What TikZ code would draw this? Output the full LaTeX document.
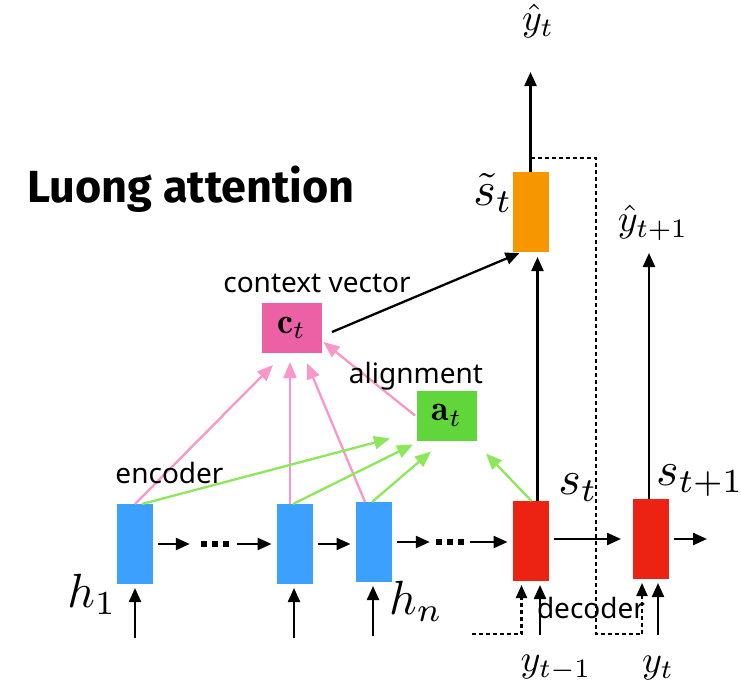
\documentclass[tikz,border=0pt]{standalone}
\usepackage{graphicx}
\usepackage{fontspec}
\newfontfamily\labelfont{Noto Sans}
\newfontfamily\titlefont{Fira Sans}
\usetikzlibrary{arrows.meta}

\definecolor{encblue}{RGB}{60,160,255}
\definecolor{decred}{RGB}{236,34,18}
\definecolor{outorange}{RGB}{246,150,0}
\definecolor{ctxpink}{RGB}{236,96,166}
\definecolor{alngreen}{RGB}{96,214,58}
\definecolor{pinkline}{RGB}{250,150,200}
\definecolor{greenline}{RGB}{140,232,90}

\newcommand{\bigsym}[1]{\scalebox{4.8}{$#1$}}
\newcommand{\smallsym}[1]{\scalebox{3.8}{$#1$}}
\newcommand{\boxsym}[1]{\scalebox{3.6}{$#1$}}

\tikzset{
  cell/.style={minimum width=36pt,minimum height=80pt,inner sep=0pt,outer sep=0pt},
  attnbox/.style={minimum width=60pt,minimum height=50pt,inner sep=0pt,outer sep=0pt},
  flow/.style={line width=2.3pt,-{Triangle[length=14pt,width=12pt]}},
  dashflow/.style={line width=2.2pt,dash pattern=on 4pt off 3pt,-{Triangle[length=13pt,width=11pt]}},
  pinkflow/.style={pinkline,line width=2.3pt,-{Triangle[length=16pt,width=13pt]}},
  greenflow/.style={greenline,line width=2.3pt,-{Triangle[length=16pt,width=13pt]}},
  txtlabel/.style={inner sep=0pt,anchor=base,font=\labelfont\fontsize{28}{30}\selectfont},
  symlabel/.style={inner sep=0pt},
  dots/.style={minimum width=30pt,minimum height=6pt,inner sep=0pt,
    path picture={\foreach \k in {-11,0,11}{
      \fill ([xshift=\k pt]path picture bounding box.center) +(-3,-3) rectangle +(3,3);}}}
}

\begin{document}
\begin{tikzpicture}[x=1pt,y=-1pt]
\useasboundingbox (0,0) rectangle (741,688);

% encoder cells
\node[cell,fill=encblue] (h1) at (135,544) {};
\node[cell,fill=encblue] (e2) at (294.5,544) {};
\node[cell,fill=encblue] (e3) at (373.5,542) {};
% decoder cells
\node[cell,fill=decred] (s1) at (530.5,541) {};
\node[cell,fill=decred] (s2) at (651,539) {};
% attentional hidden state
\node[cell,fill=outorange] (ot) at (530.5,212) {};
% context vector and alignment
\node[attnbox,fill=ctxpink] (ct) at (291.5,328) {\boxsym{\mathbf{c}_t}};
\node[attnbox,fill=alngreen] (at) at (447,415.5) {\boxsym{\mathbf{a}_t}};

% ellipses in the recurrent chains
\node[dots] (dA) at (215,544) {};
\node[dots] (dB) at (450,542) {};

% recurrent connections
\draw[flow] ([xshift=5pt]h1.east) -- ([xshift=-10pt]dA.west);
\draw[flow] ([xshift=7pt]dA.east) -- ([xshift=-5pt]e2.west |- dA.east);
\draw[flow] ([xshift=5pt]e2.east) -- ([xshift=-5pt]e3.west |- e2.east);
\draw[flow] ([xshift=5pt]e3.east |- dB.west) -- ([xshift=-5pt]dB.west);
\draw[flow] ([xshift=5pt]dB.east) -- ([xshift=-5pt]s1.west |- dB.east);
\draw[flow] ([xshift=5pt]s1.east |- s2.west) -- ([xshift=-12pt]s2.west);
\coordinate (s2out) at (707,539);
\draw[flow] ([xshift=5pt]s2.east) -- (s2out);

% inputs
\coordinate (inA) at (135,638);
\coordinate (inB) at (294,638);
\coordinate (inC) at (373,636);
\coordinate (inD) at (540,635);
\coordinate (inE) at (658,635);
\draw[flow] (inA) -- ([yshift=-4pt]h1.south);
\draw[flow] (inB) -- ([yshift=-4pt]inB |- e2.south);
\draw[flow] (inC) -- ([yshift=-4pt]inC |- e3.south);
\draw[flow] (inD) -- ([yshift=-4pt]inD |- s1.south);
\draw[flow] (inE) -- ([yshift=-4pt]inE |- s2.south);

% input feeding (dashed)
\coordinate (fbA) at (472,634);
\coordinate (fbB) at (596,634);
\draw[dashflow] (fbA) -| ([xshift=-9pt,yshift=-4pt]s1.south);
\draw[dashflow] ([yshift=14pt]ot.north) -| (fbB) -| ([xshift=-9pt,yshift=-4pt]s2.south);

% outputs
\coordinate (topA) at (530.5,72);
\coordinate (topB) at (649,253);
\draw[flow] (ot.north) -- (topA);
\draw[flow] ([xshift=7pt]s1.north) -- ([xshift=7pt,yshift=-5pt]ot.south);
\draw[flow] ([xshift=-2pt]s2.north) -- (topB);
\draw[flow] ([xshift=10.5pt,yshift=-4pt]ct.east) -- ([xshift=7pt,yshift=-1pt]ot.south west);

% attention weights into the context vector
\draw[pinkflow] (h1.north) -- ([xshift=-18.5pt,yshift=-12pt]ct.south);
\draw[pinkflow] ([xshift=-4.5pt]e2.north) -- ([xshift=-1.5pt,yshift=-9pt]ct.south);
\draw[pinkflow] ([xshift=-8.5pt]e3.north) -- ([xshift=15.5pt,yshift=-10pt]ct.south);
\draw[pinkflow] ([xshift=-2pt]at.west) -- ([xshift=2pt,yshift=11pt]ct.south east);

% hidden states into the alignment
\draw[greenflow] ([xshift=7pt]h1.north) -- ([xshift=-27pt,yshift=2pt]at.south west);
\draw[greenflow] ([xshift=-1.5pt]e2.north) -- ([xshift=-4pt,yshift=-4pt]at.south west);
\draw[greenflow] ([xshift=-1.5pt]e3.north) -- ([xshift=-16pt,yshift=-11pt]at.south);
\draw[greenflow] ([xshift=1pt]s1.north) -- ([xshift=39pt,yshift=-13pt]at.south);

% text
\node[inner sep=0pt,anchor=base west,font=\titlefont\bfseries\fontsize{45}{48}\selectfont] (title) at (27,202) {Luong attention};
\node[txtlabel] (lctx) at (317,292) {context vector};
\node[txtlabel] (laln) at (416,383) {alignment};
\node[txtlabel] (lenc) at (169.5,483) {encoder};
\node[txtlabel] (ldec) at (591,618) {decoder};

\node[symlabel] (lh1) at (92,594) {\bigsym{h_1}};
\node[symlabel] (lhn) at (416,601) {\bigsym{h_n}};
\node[symlabel] (lst) at (578,488) {\bigsym{s_t}};
\node[symlabel] (lst1) at (700,481) {\bigsym{s_{t+1}}};
\node[symlabel] (lsti) at (493,193) {\bigsym{\tilde{s}_t}};
\node[symlabel] (lyh) at (538,21) {\smallsym{\hat{y}_t}};
\node[symlabel] (lyh1) at (653,223) {\smallsym{\hat{y}_{t+1}}};
\node[symlabel] (ly0) at (556,668) {\smallsym{y_{t-1}}};
\node[symlabel] (ly1) at (658,668) {\smallsym{y_t}};
\end{tikzpicture}
\end{document}
